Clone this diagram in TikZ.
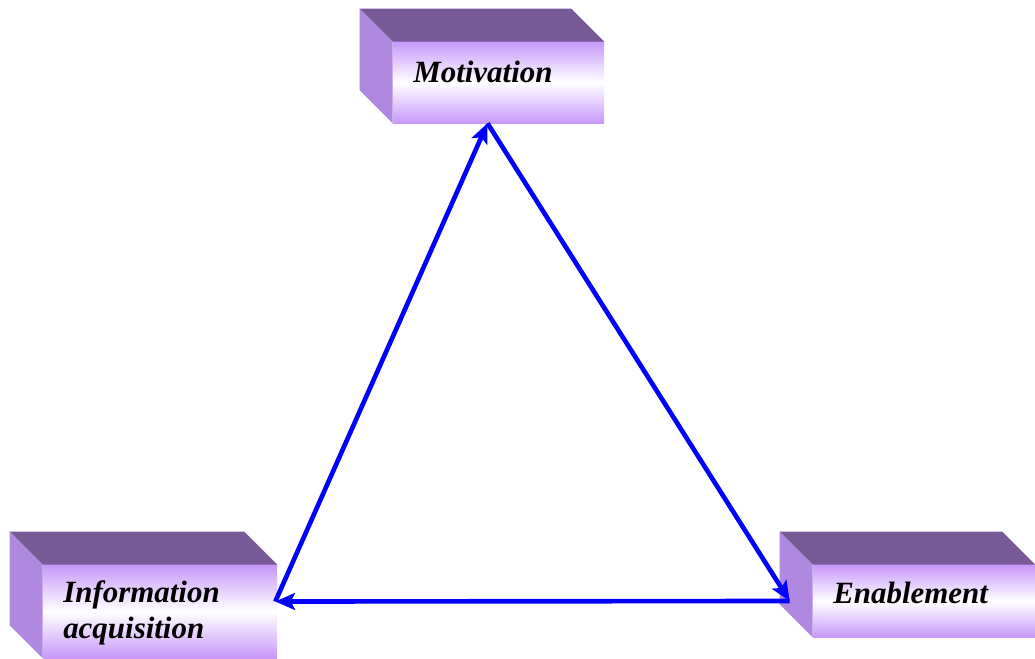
\documentclass[tikz,border=0pt]{standalone}
\usepackage{fontspec}
\setmainfont{Liberation Serif}
\usetikzlibrary{arrows.meta, positioning, calc}
\definecolor{topface}{RGB}{120,90,150}
\definecolor{sideface}{RGB}{176,136,224}
\definecolor{frontpurple}{RGB}{200,152,250}
\definecolor{arrowblue}{RGB}{0,0,255}
\tikzset{
  front/.style={rectangle, inner sep=0pt, top color=frontpurple,
    bottom color=frontpurple, middle color=white},
  boxlabel/.style={inner sep=0pt, anchor=base west, align=left,
    font=\fontsize{22}{25}\selectfont\bfseries\itshape},
  flow/.style={-{Stealth[length=14pt, width=12pt, inset=3pt]},
    line width=3.3pt, color=arrowblue},
}
% top and left faces of a box, drawn from its front node
\newcommand{\boxsides}[1]{%
  \fill[topface] (#1.north west) -- (#1.north east) -- ++(-33,-33)
    -- ($(#1.north west)+(-33,-33)$) -- cycle;
  \fill[sideface] (#1.north west) -- (#1.south west) -- ++(-33,-33)
    -- ($(#1.north west)+(-33,-33)$) -- cycle;
}
\begin{document}
\begin{tikzpicture}[x=0.025cm, y=-0.025cm]
  \useasboundingbox (0,0) rectangle (1035,659);

  \node[front, minimum width=5.275cm, minimum height=2.025cm]
    (motiv) at (498.5,82.5) {};
  \node[front, minimum width=5.85cm, minimum height=2.325cm]
    (info) at (160,611.5) {};
  \node[front, minimum width=5.55cm, minimum height=1.8cm]
    (enable) at (924,601) {};
  \boxsides{motiv}
  \boxsides{info}
  \boxsides{enable}

  \node[boxlabel] (motivlabel) at (413,82) {Motivation};
  \node[boxlabel] (infolabel) at (63,638) {Information\\acquisition};
  \node[boxlabel] (enablelabel) at (833,603) {Enablement};

  \coordinate (pm) at ($(motiv.south)+(-11,0)$);
  \coordinate (pi) at ($(info.east)+(-2,-10)$);
  \coordinate (pe) at ($(enable.west)+(-23,0)$);

  \draw[flow] (pi) -- (pm);
  \draw[flow] (pm) -- (pe);
  \draw[flow] (pe) -- (pi);
\end{tikzpicture}
\end{document}
